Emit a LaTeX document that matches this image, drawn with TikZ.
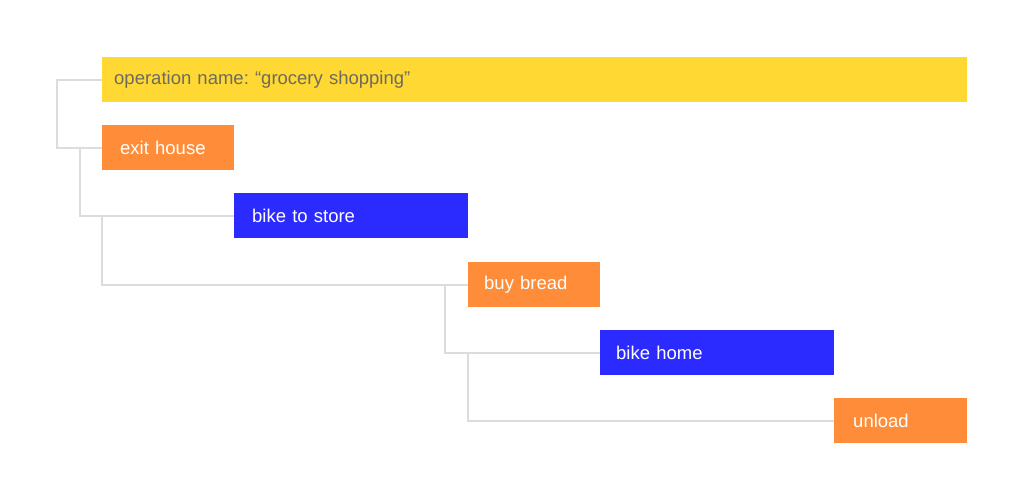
\documentclass[tikz,border=0pt]{standalone}
\usepackage{fontspec}
\setmainfont{Liberation Sans}
\frenchspacing
\definecolor{opyellow}{HTML}{FFD833}
\definecolor{oporange}{HTML}{FF8C38}
\definecolor{opblue}{HTML}{2B2BFF}
\definecolor{conngray}{HTML}{DCDCDC}
\definecolor{optext}{HTML}{6E6B5E}
\begin{document}
\begin{tikzpicture}[x=1pt,y=-1pt,
  box/.style 2 args={rectangle, anchor=north west, inner ysep=0pt, inner xsep=#2,
    text width=#1-2*#2, minimum height=45pt, align=left, font=\fontsize{18.5}{21}\selectfont},
  yellowbox/.style={fill=opyellow, text=optext},
  orangebox/.style={fill=oporange, text=white},
  bluebox/.style={fill=opblue, text=white},
  conn/.style={draw=conngray, line width=2pt}]
\useasboundingbox (0,0) rectangle (1024,501);
\fill[white] (0,0) rectangle (1024,501);
\node[box={865pt}{12pt}, yellowbox] (op) at (102,57) {operation name: “grocery shopping”};
\node[box={132pt}{18pt}, orangebox] (exit) at (102,125) {exit house};
\node[box={234pt}{18pt}, bluebox] (store) at (234,193) {bike to store};
\node[box={132pt}{16pt}, orangebox] (bread) at (468,262) {buy bread};
\node[box={234pt}{16pt}, bluebox] (home) at (600,330) {bike home};
\node[box={133pt}{19pt}, orangebox] (unload) at (834,398) {unload};
\draw[conn] (op.west) -- ++(-45,0) |- (exit.west);
\draw[conn] (exit.west) ++(-22,0) |- (store.west);
\draw[conn] (store.west) ++(-132,0) |- (bread.west);
\draw[conn] (bread.west) ++(-23,0) |- (home.west);
\draw[conn] (home.west) ++(-132,0) |- (unload.west);
\end{tikzpicture}
\end{document}
